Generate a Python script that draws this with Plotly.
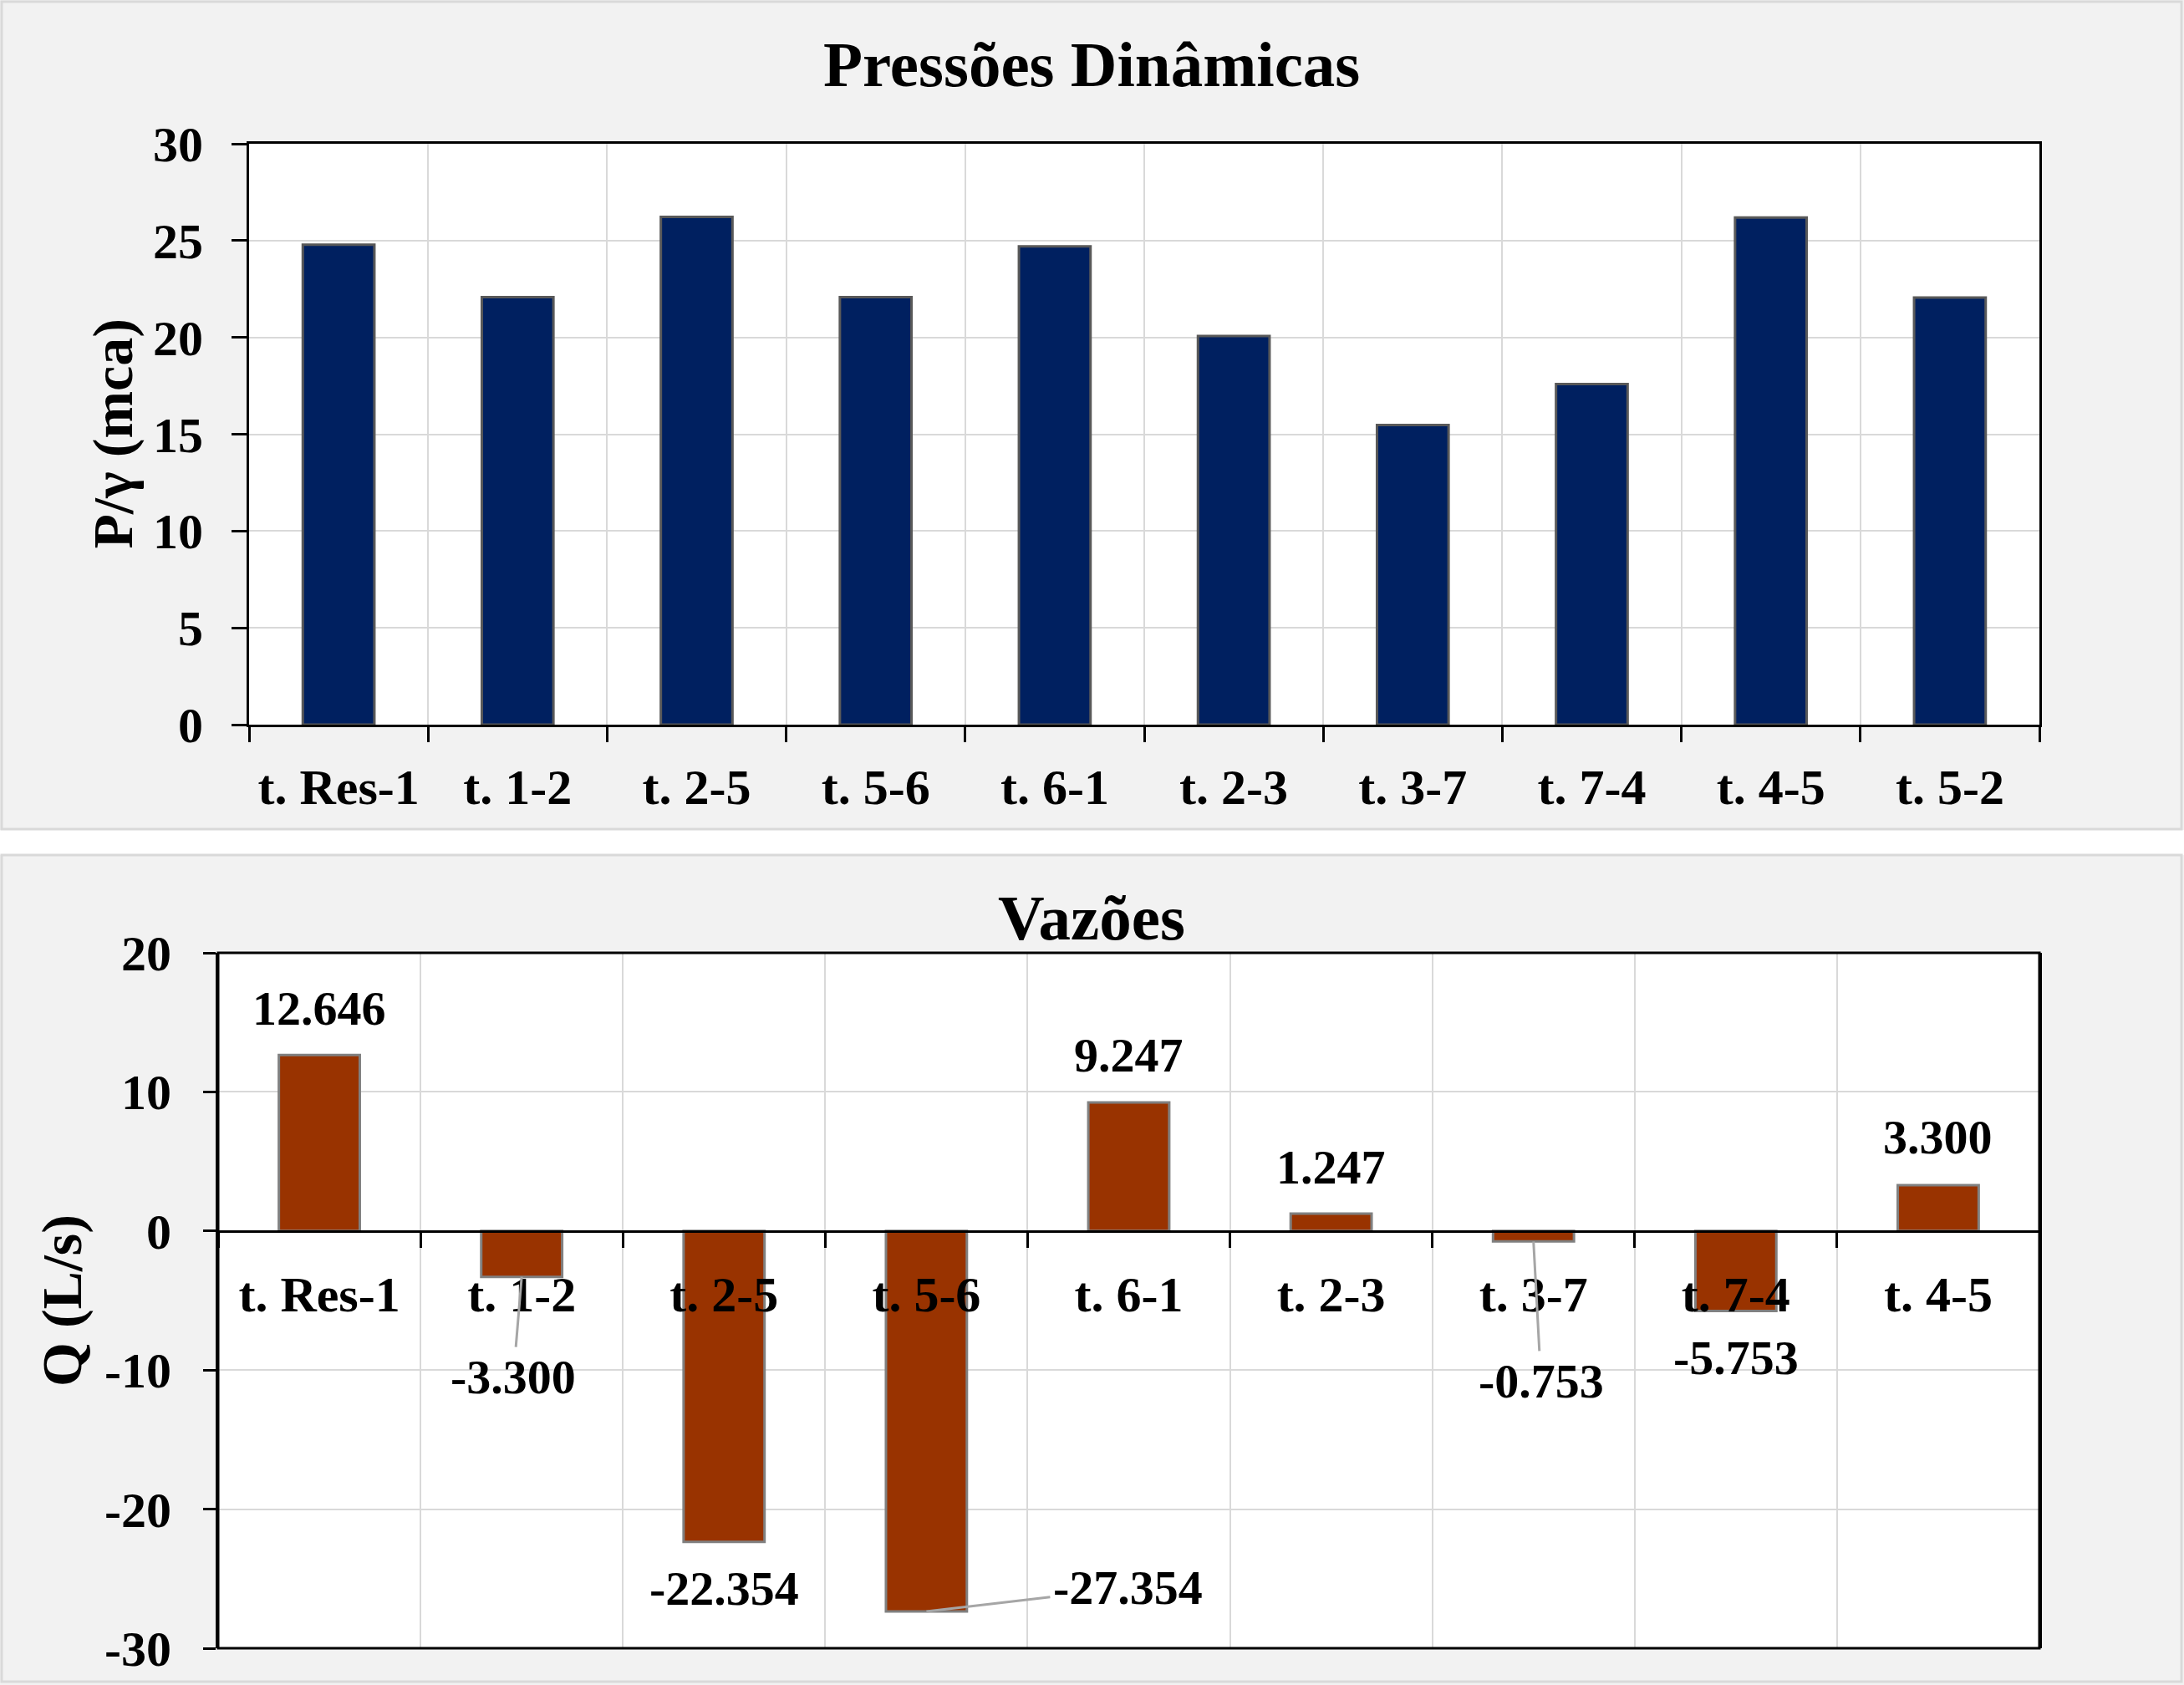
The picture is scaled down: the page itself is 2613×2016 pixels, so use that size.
import plotly.graph_objects as go

# ---------------- data ----------------
press_categories = ["t. Res-1", "t. 1-2", "t. 2-5", "t. 5-6", "t. 6-1",
                    "t. 2-3", "t. 3-7", "t. 7-4", "t. 4-5", "t. 5-2"]
press_values = [24.79, 22.08, 26.22, 22.08, 24.70, 20.07, 15.47, 17.59, 26.19, 22.06]

flow_categories = ["t. Res-1", "t. 1-2", "t. 2-5", "t. 5-6", "t. 6-1",
                   "t. 2-3", "t. 3-7", "t. 7-4", "t. 4-5"]
flow_values = [12.646, -3.300, -22.354, -27.354, 9.247, 1.247, -0.753, -5.753, 3.300]

press_yticks = [0, 5, 10, 15, 20, 25, 30]
flow_yticks = [-30, -20, -10, 0, 10, 20]

title_top = "Pressões Dinâmicas"
title_bottom = "Vazões"
ytitle_top = "P/γ (mca)"
ytitle_bottom = "Q (L/s)"

# ---------------- styling / layout ----------------
W, H = 2613, 2016
FONT = "Liberation Serif, Times New Roman, serif"
TICK_SIZE = 60
LABEL_SIZE = 58
TITLE_SIZE = 77
AXTITLE_SIZE = 68

# label offsets (pixels): (ax, ay, arrow)
label_offsets = [(0, -56, False), (-10, 120, True), (0, 56, False), (241, -28, True),
                 (0, -56, False), (0, -56, False), (9, 167, True), (0, 56, False),
                 (0, -57, False)]


def fx(px):
    return px / W


def fy(py):
    return 1 - py / H


top_dom_x = [fx(298), fx(2440)]
top_dom_y = [fy(867), fy(172)]
bot_dom_x = [fx(261), fx(2440)]
bot_dom_y = [fy(1972), fy(1140)]

fig = go.Figure()

fig.add_trace(go.Bar(
    x=press_categories, y=press_values, xaxis="x", yaxis="y",
    marker=dict(color="#002060", line=dict(color="#595959", width=3)),
    width=0.4, showlegend=False, hoverinfo="skip"))

fig.add_trace(go.Bar(
    x=flow_categories, y=flow_values, xaxis="x2", yaxis="y2",
    marker=dict(color="#993300", line=dict(color="#808080", width=3)),
    width=0.4, showlegend=False, hoverinfo="skip"))

tickfont = dict(family=FONT, size=TICK_SIZE, color="black", weight="bold")

yr = [flow_yticks[0], flow_yticks[-1]]
zero_pos = bot_dom_y[0] + (0 - yr[0]) / (yr[1] - yr[0]) * (bot_dom_y[1] - bot_dom_y[0])

fig.update_layout(
    width=W, height=H,
    autosize=False,
    margin=dict(l=0, r=0, t=0, b=0, pad=0, autoexpand=False),
    paper_bgcolor="#f2f2f2",
    plot_bgcolor="white",
    showlegend=False,
    bargap=0.6,
    xaxis=dict(domain=top_dom_x, anchor="y", type="category", automargin=False,
               showline=True, linecolor="black", linewidth=3, mirror=True,
               showgrid=True, gridcolor="#d9d9d9", gridwidth=2,
               tickson="boundaries", ticks="outside", ticklen=18, tickwidth=3,
               tickcolor="black", tickfont=tickfont, ticklabelstandoff=20,
               fixedrange=True),
    yaxis=dict(domain=top_dom_y, anchor="x", range=[press_yticks[0], press_yticks[-1]],
               tickvals=press_yticks, ticktext=[str(v) for v in press_yticks],
               automargin=False,
               showline=True, linecolor="black", linewidth=3, mirror=True,
               showgrid=True, gridcolor="#d9d9d9", gridwidth=2, zeroline=False,
               ticks="outside", ticklen=18, tickwidth=3, tickcolor="black",
               tickfont=tickfont, ticklabelstandoff=22, fixedrange=True),
    xaxis2=dict(domain=bot_dom_x, anchor="free", position=zero_pos, type="category",
                automargin=False,
                showline=True, linecolor="black", linewidth=3,
                showgrid=True, gridcolor="#d9d9d9", gridwidth=2,
                tickson="boundaries", ticks="outside", ticklen=18, tickwidth=3,
                tickcolor="black", tickfont=tickfont, ticklabelstandoff=22,
                fixedrange=True),
    yaxis2=dict(domain=bot_dom_y, anchor="x2", range=yr, tickvals=flow_yticks,
                ticktext=[str(v) for v in flow_yticks], automargin=False,
                showline=True, linecolor="black", linewidth=3, mirror=True,
                showgrid=True, gridcolor="#d9d9d9", gridwidth=2, zeroline=False,
                ticks="outside", ticklen=15, tickwidth=3, tickcolor="black",
                tickfont=tickfont, ticklabelstandoff=26, fixedrange=True),
)

shapes = [
    # white gap between panels
    dict(type="rect", xref="paper", yref="paper", x0=0, x1=1, y0=fy(1023), y1=fy(993),
         fillcolor="white", line=dict(width=0), layer="below"),
    # panel borders
    dict(type="rect", xref="paper", yref="paper", x0=fx(2), x1=fx(2610), y0=fy(992), y1=fy(2),
         fillcolor="rgba(0,0,0,0)", line=dict(color="#d9d9d9", width=3), layer="below"),
    dict(type="rect", xref="paper", yref="paper", x0=fx(2), x1=fx(2610), y0=fy(2012), y1=fy(1023),
         fillcolor="rgba(0,0,0,0)", line=dict(color="#d9d9d9", width=3), layer="below"),
    # bottom plot frame
    dict(type="rect", xref="x2 domain", yref="y2 domain", x0=0, x1=1, y0=0, y1=1,
         fillcolor="rgba(0,0,0,0)", line=dict(color="black", width=3), layer="above"),
]
fig.update_layout(shapes=shapes)

annotations = [
    dict(text=f"<b>{title_top}</b>", xref="paper", yref="paper", x=fx(1306), y=fy(77),
         xanchor="center", yanchor="middle", showarrow=False,
         font=dict(family=FONT, size=TITLE_SIZE, color="black")),
    dict(text=f"<b>{title_bottom}</b>", xref="paper", yref="paper", x=fx(1306), y=fy(1098),
         xanchor="center", yanchor="middle", showarrow=False,
         font=dict(family=FONT, size=TITLE_SIZE, color="black")),
    dict(text=f"<b>{ytitle_top}</b>", xref="paper", yref="paper", x=fx(134),
         y=(top_dom_y[0] + top_dom_y[1]) / 2, textangle=-90,
         xanchor="center", yanchor="middle", showarrow=False,
         font=dict(family=FONT, size=AXTITLE_SIZE, color="black")),
    dict(text=f"<b>{ytitle_bottom}</b>", xref="paper", yref="paper", x=fx(74),
         y=(bot_dom_y[0] + bot_dom_y[1]) / 2, textangle=-90,
         xanchor="center", yanchor="middle", showarrow=False,
         font=dict(family=FONT, size=AXTITLE_SIZE, color="black")),
]

for cat, val, (ax, ay, arrow) in zip(flow_categories, flow_values, label_offsets):
    txt = f"<b>{val:.3f}</b>"
    if arrow:
        annotations.append(dict(
            text=txt, xref="x2", yref="y2", x=cat, y=val, ax=ax, ay=ay,
            axref="pixel", ayref="pixel", showarrow=True, arrowhead=0,
            arrowcolor="#a6a6a6", arrowwidth=3, standoff=0, startstandoff=2,
            font=dict(family=FONT, size=LABEL_SIZE, color="black")))
    else:
        annotations.append(dict(
            text=txt, xref="x2", yref="y2", x=cat, y=val, yshift=-ay,
            showarrow=False, xanchor="center", yanchor="middle",
            font=dict(family=FONT, size=LABEL_SIZE, color="black")))

fig.update_layout(annotations=annotations)

fig.write_html(
    "out.html",
    config={"displayModeBar": False},
    post_script="document.body.style.margin='0';document.body.style.overflow='hidden';",
)
